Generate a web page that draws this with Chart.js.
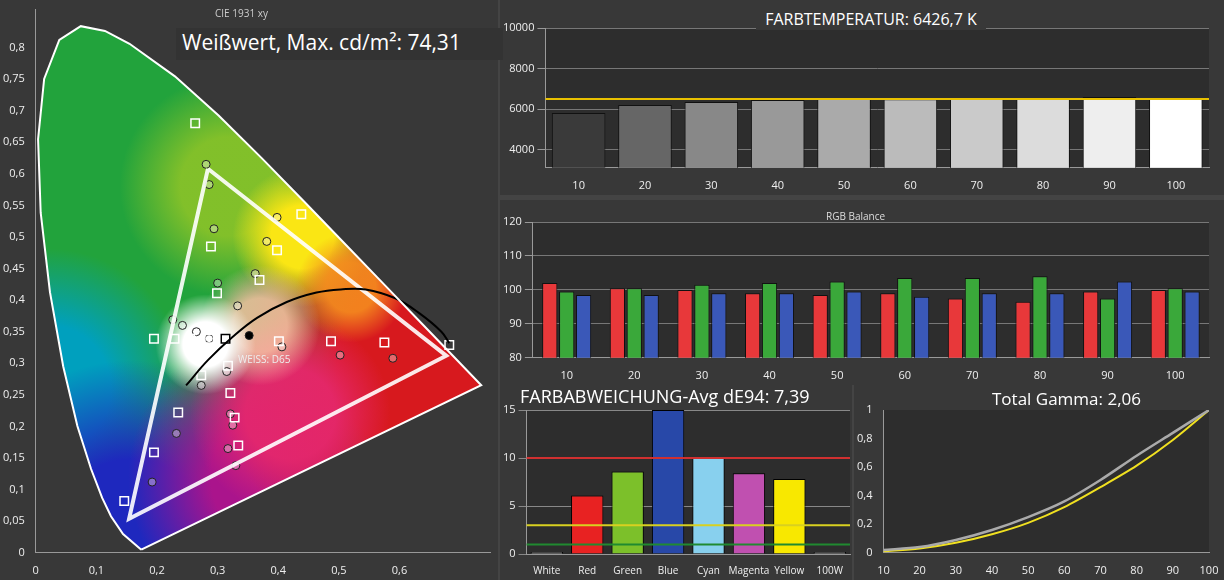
<!DOCTYPE html>
<html><head><meta charset="utf-8">
<script src="https://cdn.jsdelivr.net/npm/chart.js@4/dist/chart.umd.min.js"></script>
<style>
body{margin:0;background:#444;width:1224px;height:580px;overflow:hidden;font-family:"Open Sans",sans-serif;}
canvas{position:absolute;background:#383838;}
.t{position:absolute;color:#fff;white-space:nowrap;}
</style></head><body>
<canvas id="cie" width="498" height="580" style="left:0;top:0"></canvas>
<canvas id="temp" width="724" height="195" style="left:500px;top:0"></canvas>
<canvas id="rgb" width="724" height="185" style="left:500px;top:200px"></canvas>
<canvas id="de" width="352" height="195" style="left:500px;top:385px"></canvas>
<canvas id="gam" width="370" height="195" style="left:854px;top:385px"></canvas>
<div class="t" style="left:215px;top:6px;font-size:10px;color:#ccc">CIE 1931 xy</div>
<div class="t" style="left:176px;top:28px;width:321px;height:32px;background:#333;font-size:21px;padding-left:6px">Weißwert, Max. cd/m²: 74,31</div>
<div class="t" style="left:238px;top:352px;font-size:10px;color:#eee">WEISS: D65</div>
<div class="t" style="left:756px;top:8px;width:230px;background:#383838;font-size:16px;text-align:center">FARBTEMPERATUR: 6426,7 K</div>
<div class="t" style="left:826px;top:209px;font-size:10px;color:#ddd">RGB Balance</div>
<div class="t" style="left:520px;top:384px;font-size:18px">FARBABWEICHUNG-Avg dE94: 7,39</div>
<div class="t" style="left:992px;top:387px;font-size:17px">Total Gamma: 2,06</div>
<script>
// spectral locus (CIE 1931)
const locusX = [0.1741,0.1440,0.1241,0.1096,0.0913,0.0687,0.0454,0.0235,0.0082,0.0039,0.0139,0.0389,0.0743,0.1142,0.1547,0.2296,0.3016,0.3731,0.4441,0.5125,0.5752,0.6270,0.6915,0.7347,0.1741];
const locusY = [0.0050,0.0297,0.0578,0.0868,0.1327,0.2007,0.2950,0.4127,0.5384,0.6548,0.7502,0.8120,0.8338,0.8262,0.8059,0.7543,0.6923,0.6245,0.5547,0.4866,0.4242,0.3725,0.3083,0.2653,0.0050];
const gamutX = [0.284,0.677,0.154,0.284];
const gamutY = [0.608,0.312,0.054,0.608];
const wideX = [0.263,0.735,0.150,0.263];
const wideY = [0.690,0.262,0.030,0.690];
const targetX = [0.263,0.438,0.289,0.398,0.299,0.369,0.195,0.229,0.255,0.286,0.313,0.401,0.487,0.575,0.682,0.317,0.273,0.321,0.235,0.328,0.334,0.195,0.146];
const targetY = [0.680,0.536,0.485,0.479,0.411,0.432,0.339,0.339,0.339,0.339,0.339,0.335,0.335,0.333,0.329,0.296,0.281,0.253,0.222,0.214,0.170,0.159,0.082];
const measX = [0.281,0.286,0.294,0.398,0.381,0.300,0.362,0.333,0.226,0.242,0.265,0.286,0.352,0.406,0.502,0.589,0.315,0.273,0.321,0.325,0.232,0.317,0.330,0.192];
const measY = [0.615,0.583,0.513,0.531,0.493,0.427,0.442,0.391,0.369,0.360,0.350,0.339,0.344,0.326,0.313,0.308,0.287,0.265,0.220,0.202,0.189,0.165,0.138,0.112];
const planckX = [0.248,0.284,0.325,0.365,0.414,0.463,0.503,0.544,0.593,0.633,0.669,0.682];
const planckY = [0.265,0.305,0.342,0.372,0.397,0.412,0.417,0.417,0.403,0.379,0.350,0.332];

const levels = ["10","20","30","40","50","60","70","80","90","100"];
const cct = [5810,6200,6350,6450,6500,6480,6500,6550,6600,6500];
const cctTarget = 6500;
const rgbR = [102,100.5,100,99,98.5,99,97.5,96.5,99.5,100];
const rgbG = [99.5,100.5,101.5,102,102.5,103.5,103.5,104,97.5,100.5];
const rgbB = [98.5,98.5,99,99,99.5,98,99,99,102.5,99.5];
const deLabels = ["White","Red","Green","Blue","Cyan","Magenta","Yellow","100W"];
const deValues = [0.2,6.1,8.6,15,10.1,8.4,7.8,0.2];
const deRefLines = [10, 3, 1];
const gammaX = [10,20,30,40,50,60,70,80,90,100];
const gammaMeas = [0.02,0.04,0.09,0.16,0.25,0.36,0.51,0.68,0.84,1.0];
const gammaRef = [0.01,0.03,0.07,0.13,0.21,0.32,0.46,0.61,0.79,1.0];

const pts = (xs, ys) => xs.map((x, i) => ({x, y: ys[i]}));
const comma = v => String(+v.toFixed(2)).replace('.', ',');
const tickFont = {family: "Open Sans", size: 11};
Chart.defaults.color = '#eee';
Chart.defaults.animation = false;

const plotBg = {
  id: 'plotBg',
  beforeDraw(c) {
    const a = c.chartArea, ctx = c.ctx;
    ctx.save(); ctx.fillStyle = '#2d2d2d';
    ctx.fillRect(a.left, a.top, a.right - a.left, a.bottom - a.top);
    ctx.restore();
  }
};

// horizontal reference lines across the full plot width
const hLines = {
  id: 'hLines',
  afterDatasetsDraw(c, args, opts) {
    const ctx = c.ctx, a = c.chartArea, sy = c.scales.y;
    ctx.save();
    (opts.lines || []).forEach(([v, col]) => {
      const y = sy.getPixelForValue(v);
      ctx.strokeStyle = col; ctx.lineWidth = 2;
      ctx.beginPath(); ctx.moveTo(a.left, y); ctx.lineTo(a.right, y); ctx.stroke();
    });
    ctx.restore();
  }
};

const cieFill = {
  id: 'cieFill',
  beforeDatasetsDraw(c) {
    const ctx = c.ctx, sx = c.scales.x, sy = c.scales.y;
    const P = (x, y) => [sx.getPixelForValue(x), sy.getPixelForValue(y)];
    ctx.save();
    ctx.beginPath();
    locusX.forEach((x, i) => { const [px, py] = P(x, locusY[i]); i ? ctx.lineTo(px, py) : ctx.moveTo(px, py); });
    ctx.closePath(); ctx.clip();
    ctx.fillStyle = '#22a33c'; ctx.fillRect(0, 0, c.width, c.height);
    const blob = (x, y, r, col) => {
      const [px, py] = P(x, y);
      const g = ctx.createRadialGradient(px, py, 0, px, py, r);
      g.addColorStop(0, col); g.addColorStop(0.45, col);
      g.addColorStop(1, col.replace(/[\d.]+\)$/, '0)'));
      ctx.fillStyle = g; ctx.fillRect(0, 0, c.width, c.height);
    };
    blob(0.02, 0.26, 140, 'rgba(0,160,190,1)');
    blob(0.16, 0.02, 180, 'rgba(30,40,190,1)');
    blob(0.40, 0.12, 150, 'rgba(170,20,140,1)');
    blob(0.66, 0.30, 220, 'rgba(215,25,30,1)');
    blob(0.42, 0.22, 100, 'rgba(230,40,110,0.9)');
    blob(0.32, 0.58, 110, 'rgba(140,195,40,0.9)');
    blob(0.44, 0.50, 70, 'rgba(250,230,20,1)');
    blob(0.52, 0.42, 55, 'rgba(245,140,30,0.9)');
    blob(0.37, 0.36, 60, 'rgba(255,200,170,0.8)');
    blob(0.28, 0.33, 50, 'rgba(255,255,255,1)');
    ctx.restore();
  }
};

new Chart(document.getElementById('cie'), {
  type: 'scatter',
  data: {datasets: [
    {data: pts(wideX, wideY), showLine: true, pointRadius: 0, borderWidth: 0, fill: true, backgroundColor: 'rgba(255,255,255,0.12)'},
    {data: pts(locusX, locusY), showLine: true, pointRadius: 0, borderColor: '#fff', borderWidth: 2},
    {data: pts(planckX, planckY), showLine: true, pointRadius: 0, borderColor: '#000', borderWidth: 2, tension: 0.4},
    {data: pts(gamutX, gamutY), showLine: true, pointRadius: 0, borderColor: 'rgba(255,255,255,0.9)', borderWidth: 4},
    {data: pts(targetX, targetY), pointStyle: 'rect', pointRadius: 6, borderWidth: 1.5,
     pointBorderColor: targetX.map((x, i) => i === 10 ? '#000' : '#fff'), pointBackgroundColor: 'rgba(0,0,0,0)'},
    {data: pts(measX, measY), pointRadius: 4, borderWidth: 1, pointBorderColor: '#222',
     pointBackgroundColor: measX.map((x, i) => i === 12 ? '#000' : 'rgba(255,255,255,0.35)')}
  ]},
  options: {
    responsive: false,
    layout: {padding: {top: 5, right: 0}},
    plugins: {legend: {display: false}, tooltip: {enabled: false}},
    scales: {
      x: {min: 0, max: 0.75, grid: {display: false}, border: {color: '#999'},
          ticks: {stepSize: 0.1, font: tickFont, callback: v => v > 0.71 ? '' : comma(v)}},
      y: {min: 0, max: 0.86, grid: {display: false}, border: {color: '#999'},
          ticks: {stepSize: 0.05, font: tickFont, callback: v => v > 0.81 ? '' : comma(v)}}
    }
  },
  plugins: [cieFill]
});

const gridOpt = {color: '#777', drawTicks: true, tickColor: '#999'};

new Chart(document.getElementById('temp'), {
  type: 'bar',
  data: {labels: levels, datasets: [
    {data: cct, backgroundColor: ['#3a3a3a','#666','#888','#999','#aaa','#bbb','#cacaca','#dcdcdc','#eee','#fff'],
     borderColor: '#111', borderWidth: 1, barPercentage: 0.85, categoryPercentage: 0.95}
  ]},
  options: {
    responsive: false,
    layout: {padding: {top: 28, right: 15}},
    plugins: {legend: {display: false}, tooltip: {enabled: false}, hLines: {lines: [[cctTarget, '#e8c000']]}},
    scales: {
      x: {grid: {display: false}, border: {color: '#999'}, ticks: {font: tickFont}},
      y: {min: 3100, max: 10000, grid: gridOpt, border: {color: '#999'},
          afterBuildTicks: s => { s.ticks = [4000,6000,8000,10000].map(v => ({value: v})); },
          ticks: {font: tickFont, callback: v => String(v)}}
    }
  },
  plugins: [plotBg, hLines]
});

new Chart(document.getElementById('rgb'), {
  type: 'bar',
  data: {labels: levels, datasets: [
    {data: rgbR, backgroundColor: '#e8383a', borderColor: '#111', borderWidth: 1},
    {data: rgbG, backgroundColor: '#3aa83a', borderColor: '#111', borderWidth: 1},
    {data: rgbB, backgroundColor: '#3a58b8', borderColor: '#111', borderWidth: 1}
  ]},
  options: {
    responsive: false,
    layout: {padding: {top: 22, right: 15}},
    datasets: {bar: {barPercentage: 0.9, categoryPercentage: 0.75}},
    plugins: {legend: {display: false}, tooltip: {enabled: false}},
    scales: {
      x: {grid: {display: false}, border: {color: '#999'}, ticks: {font: tickFont}},
      y: {min: 80, max: 120, grid: gridOpt, border: {color: '#999'}, ticks: {stepSize: 10, font: tickFont}}
    }
  },
  plugins: [plotBg]
});

new Chart(document.getElementById('de'), {
  type: 'bar',
  data: {labels: deLabels, datasets: [
    {data: deValues, backgroundColor: ['#eee','#e82222','#7cc02a','#2848a8','#88d0ee','#c050b0','#f8e800','#eee'],
     borderColor: '#000', borderWidth: 1, barPercentage: 0.8, categoryPercentage: 1}
  ]},
  options: {
    responsive: false,
    layout: {padding: {top: 25, right: 2}},
    plugins: {legend: {display: false}, tooltip: {enabled: false},
      hLines: {lines: deRefLines.map((v, i) => [v, ['#d03030', '#d8d020', '#208a30'][i]])}},
    scales: {
      x: {grid: {display: false}, border: {color: '#999'},
          ticks: {font: {family: "Open Sans", size: 10}, maxRotation: 0, minRotation: 0, autoSkip: false}},
      y: {min: 0, max: 15, grid: {color: '#888'}, border: {color: '#999'}, ticks: {stepSize: 5, font: tickFont}}
    }
  },
  plugins: [plotBg, hLines]
});

new Chart(document.getElementById('gam'), {
  type: 'line',
  data: {datasets: [
    {data: pts(gammaX, gammaMeas), borderColor: '#aaa', borderWidth: 2.5, pointRadius: 0, tension: 0.3},
    {data: pts(gammaX, gammaRef), borderColor: '#f0e020', borderWidth: 2, pointRadius: 0, tension: 0.3}
  ]},
  options: {
    responsive: false,
    layout: {padding: {top: 25, right: 15}},
    plugins: {legend: {display: false}, tooltip: {enabled: false}},
    scales: {
      x: {type: 'linear', min: 10, max: 100, grid: {display: false, tickColor: '#999'}, border: {color: '#999'},
          ticks: {stepSize: 10, font: tickFont, maxRotation: 0, autoSkip: false}},
      y: {min: 0, max: 1, grid: {display: false}, border: {color: '#999'}, ticks: {stepSize: 0.2, font: tickFont, callback: v => comma(v)}}
    }
  },
  plugins: [plotBg]
});
</script>
</body></html>
